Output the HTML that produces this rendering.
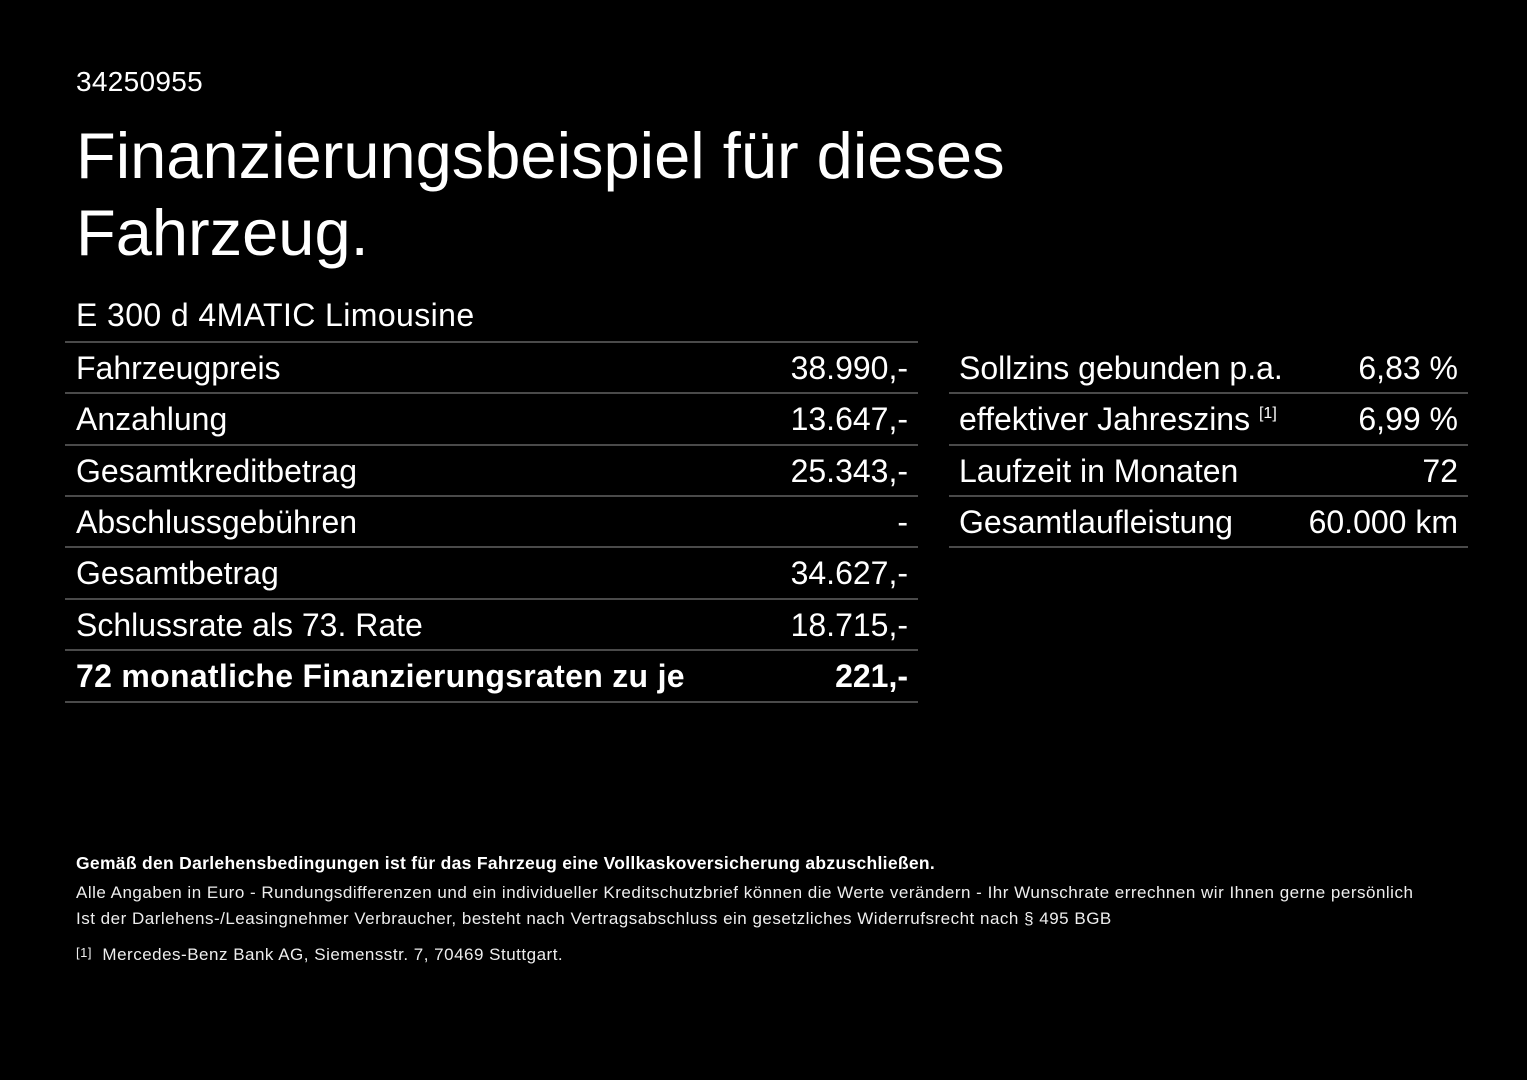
<!DOCTYPE html>
<html><head><meta charset="utf-8"><style>
body{margin:0;width:1527px;height:1080px;background:#000;color:#fff;font-family:"Liberation Sans",Arial,sans-serif;position:relative;overflow:hidden}
.a{position:absolute;white-space:nowrap}
.l{position:absolute;height:2px;background:#4a4a4a}
.r{position:absolute;font-size:32px;line-height:51px;white-space:nowrap}
.f{font-size:17px;letter-spacing:0.5px;color:#eee}
</style></head><body>
<div class="a" style="left:76px;top:66px;font-size:28px;letter-spacing:0.3px">34250955</div>
<div class="a" style="left:76px;top:117px;font-size:65px;line-height:77px">Finanzierungsbeispiel für dieses<br>Fahrzeug.</div>
<div class="a" style="left:76px;top:297px;font-size:32px;letter-spacing:0.4px">E 300 d 4MATIC Limousine</div>

<div class="l" style="left:65px;width:853px;top:341px"></div>
<div class="l" style="left:65px;width:853px;top:392px"></div>
<div class="l" style="left:65px;width:853px;top:444px"></div>
<div class="l" style="left:65px;width:853px;top:495px"></div>
<div class="l" style="left:65px;width:853px;top:546px"></div>
<div class="l" style="left:65px;width:853px;top:598px"></div>
<div class="l" style="left:65px;width:853px;top:649px"></div>
<div class="l" style="left:65px;width:853px;top:701px"></div>

<div class="r" style="left:76px;top:343px">Fahrzeugpreis</div><div class="r" style="right:619px;top:343px">38.990,-</div>
<div class="r" style="left:76px;top:394px">Anzahlung</div><div class="r" style="right:619px;top:394px">13.647,-</div>
<div class="r" style="left:76px;top:446px">Gesamtkreditbetrag</div><div class="r" style="right:619px;top:446px">25.343,-</div>
<div class="r" style="left:76px;top:497px">Abschlussgebühren</div><div class="r" style="right:619px;top:497px">-</div>
<div class="r" style="left:76px;top:548px">Gesamtbetrag</div><div class="r" style="right:619px;top:548px">34.627,-</div>
<div class="r" style="left:76px;top:600px">Schlussrate als 73. Rate</div><div class="r" style="right:619px;top:600px">18.715,-</div>
<div class="r" style="left:76px;top:651px;font-weight:bold;letter-spacing:0.3px">72 monatliche Finanzierungsraten zu je</div><div class="r" style="right:619px;top:651px;font-weight:bold">221,-</div>

<div class="l" style="left:949px;width:519px;top:392px"></div>
<div class="l" style="left:949px;width:519px;top:444px"></div>
<div class="l" style="left:949px;width:519px;top:495px"></div>
<div class="l" style="left:949px;width:519px;top:546px"></div>
<div class="r" style="left:959px;top:343px">Sollzins gebunden p.a.</div><div class="r" style="right:69px;top:343px">6,83 %</div>
<div class="r" style="left:959px;top:394px">effektiver Jahreszins <span style="font-size:16px;position:relative;top:-12px">[1]</span></div><div class="r" style="right:69px;top:394px">6,99 %</div>
<div class="r" style="left:959px;top:446px">Laufzeit in Monaten</div><div class="r" style="right:69px;top:446px">72</div>
<div class="r" style="left:959px;top:497px">Gesamtlaufleistung</div><div class="r" style="right:69px;top:497px">60.000 km</div>

<div class="a" style="left:76px;top:853px;font-size:17.5px;letter-spacing:0.3px;font-weight:bold">Gemäß den Darlehensbedingungen ist für das Fahrzeug eine Vollkaskoversicherung abzuschließen.</div>
<div class="a f" style="left:76px;top:883px">Alle Angaben in Euro - Rundungsdifferenzen und ein individueller Kreditschutzbrief können die Werte verändern - Ihr Wunschrate errechnen wir Ihnen gerne persönlich</div>
<div class="a f" style="left:76px;top:909px">Ist der Darlehens-/Leasingnehmer Verbraucher, besteht nach Vertragsabschluss ein gesetzliches Widerrufsrecht nach § 495 BGB</div>
<div class="a f" style="left:76px;top:945px"><span style="font-size:13px;position:relative;top:-3px">[1]</span>&nbsp; Mercedes-Benz Bank AG, Siemensstr. 7, 70469 Stuttgart.</div>
</body></html>
